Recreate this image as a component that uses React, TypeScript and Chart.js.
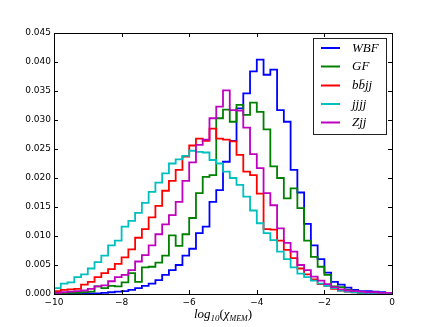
import React, { useEffect, useRef } from "react";
import { Chart, registerables } from "chart.js";

Chart.register(...registerables);

// Histogram bin edges (log10 chi_MEM)
const binEdges = [
  -10.0, -9.8, -9.6, -9.4, -9.2, -9.0, -8.8, -8.6, -8.4, -8.2,
  -8.0, -7.8, -7.6, -7.4, -7.2, -7.0, -6.8, -6.6, -6.4, -6.2,
  -6.0, -5.8, -5.6, -5.4, -5.2, -5.0, -4.8, -4.6, -4.4, -4.2,
  -4.0, -3.8, -3.6, -3.4, -3.2, -3.0, -2.8, -2.6, -2.4, -2.2,
  -2.0, -1.8, -1.6, -1.4, -1.2, -1.0, -0.8, -0.6, -0.4, -0.2,
  0.0,
];

const seriesLabels = ["WBF", "GF", "bb\u0304jj", "jjjj", "Zjj"];
const seriesColors = ["#0000ff", "#008000", "#ff0000", "#00bfbf", "#bf00bf"];

const wbf = [
  0.0, 0.0, 0.0001, 0.0001, 0.0001, 0.0001, 0.0001, 0.0002, 0.0003, 0.0004,
  0.0005, 0.0007, 0.001, 0.0014, 0.0018, 0.0024, 0.0033, 0.0041, 0.005, 0.0066,
  0.0078, 0.0105, 0.0116, 0.0159, 0.0179, 0.0228, 0.0264, 0.032, 0.0346, 0.0384,
  0.0404, 0.0378, 0.0387, 0.0317, 0.0297, 0.0214, 0.0175, 0.0121, 0.0084, 0.006,
  0.0037, 0.0021, 0.0016, 0.0011, 0.0007, 0.0005, 0.0005, 0.0004, 0.0003, 0.0001,
];
const gf = [
  0.0001, 0.0001, 0.0002, 0.0002, 0.0003, 0.0004, 0.0013, 0.001, 0.0014, 0.0013,
  0.002, 0.0036, 0.0021, 0.0046, 0.0047, 0.0054, 0.0066, 0.0101, 0.0083, 0.0103,
  0.0131, 0.0174, 0.0202, 0.0205, 0.0303, 0.0318, 0.0297, 0.0326, 0.0309, 0.033,
  0.0314, 0.0284, 0.022, 0.02, 0.0165, 0.0182, 0.0148, 0.0092, 0.0064, 0.0047,
  0.0033, 0.0013, 0.0012, 0.0007, 0.0004, 0.0002, 0.0002, 0.0002, 0.0001, 0.0001,
];
const bbjj = [
  0.0005, 0.0007, 0.0008, 0.0009, 0.0016, 0.0021, 0.0029, 0.0036, 0.0043, 0.0052,
  0.0063, 0.0077, 0.0097, 0.0112, 0.0132, 0.0152, 0.0178, 0.0195, 0.0214, 0.0237,
  0.0256, 0.0268, 0.0264, 0.0285, 0.0268, 0.0266, 0.0263, 0.024, 0.0211, 0.0205,
  0.0173, 0.0112, 0.0111, 0.0092, 0.0076, 0.0062, 0.0044, 0.0034, 0.0025, 0.0017,
  0.0014, 0.0009, 0.0006, 0.0004, 0.0003, 0.0002, 0.0001, 0.0001, 0.0, 0.0,
];
const jjjj = [
  0.001, 0.0018, 0.002, 0.0029, 0.0034, 0.0044, 0.0055, 0.0066, 0.0084, 0.0092,
  0.0116, 0.0126, 0.014, 0.0157, 0.0176, 0.0192, 0.0208, 0.0225, 0.0232, 0.0238,
  0.0247, 0.0245, 0.0244, 0.0231, 0.0225, 0.0211, 0.02, 0.0188, 0.0168, 0.0144,
  0.0122, 0.0105, 0.0093, 0.0073, 0.006, 0.0046, 0.0035, 0.0029, 0.0023, 0.0018,
  0.0014, 0.001, 0.0006, 0.0004, 0.0003, 0.0002, 0.0001, 0.0001, 0.0, 0.0,
];
const zjj = [
  0.0002, 0.0003, 0.0004, 0.0005, 0.0006, 0.0009, 0.0013, 0.0015, 0.0022, 0.0029,
  0.0033, 0.0041, 0.0056, 0.0067, 0.0084, 0.0103, 0.012, 0.0136, 0.0159, 0.0195,
  0.0227, 0.0257, 0.0266, 0.0303, 0.0323, 0.0351, 0.0317, 0.0316, 0.0287, 0.0241,
  0.0217, 0.0174, 0.0153, 0.0113, 0.0088, 0.0073, 0.005, 0.0041, 0.003, 0.0023,
  0.0017, 0.0012, 0.0008, 0.0006, 0.0005, 0.0004, 0.0003, 0.0003, 0.0002, 0.0002,
];

const xTicks = [-10, -8, -6, -4, -2, 0];
const yTicks = [0, 0.005, 0.01, 0.015, 0.02, 0.025, 0.03, 0.035, 0.04, 0.045];

const allSeries = [wbf, gf, bbjj, jjjj, zjj];

function stepPoints(vals: number[]) {
  const n = vals.length;
  const pts: { x: number; y: number }[] = [{ x: binEdges[0], y: 0 }];
  for (let i = 0; i < n; i++) pts.push({ x: binEdges[i], y: vals[i] });
  pts.push({ x: binEdges[n], y: vals[n - 1] });
  pts.push({ x: binEdges[n], y: 0 });
  return pts;
}

const framePlugin = {
  id: "framePlugin",
  afterDatasetsDraw(chart: any) {
    const { ctx, chartArea } = chart;
    const { left, right, top, bottom } = chartArea;
    const xs = chart.scales.x;
    const ys = chart.scales.y;
    ctx.save();
    ctx.strokeStyle = "#000";
    ctx.lineWidth = 1;
    // ticks inside
    ctx.beginPath();
    const tl = 4;
    xTicks.forEach((v) => {
      const px = Math.round(xs.getPixelForValue(v)) + 0.5;
      ctx.moveTo(px, bottom);
      ctx.lineTo(px, bottom - tl);
      ctx.moveTo(px, top);
      ctx.lineTo(px, top + tl);
    });
    yTicks.forEach((v) => {
      const py = Math.round(ys.getPixelForValue(v)) + 0.5;
      ctx.moveTo(left, py);
      ctx.lineTo(left + tl, py);
      ctx.moveTo(right, py);
      ctx.lineTo(right - tl, py);
    });
    ctx.stroke();
    // frame
    ctx.strokeRect(Math.round(left) + 0.5, Math.round(top) + 0.5, Math.round(right - left), Math.round(bottom - top));

    // legend
    const lx = 313.5, ly = 38.5, lw = 73, lh = 96;
    ctx.fillStyle = "#fff";
    ctx.fillRect(lx, ly, lw, lh);
    ctx.strokeStyle = "#222";
    ctx.strokeRect(lx, ly, lw, lh);
    const rowY = [48, 66.5, 85.5, 104, 122.5];
    chart.data.datasets.forEach((ds: any, i: number) => {
      const y = rowY[i];
      ctx.strokeStyle = ds.borderColor;
      ctx.lineWidth = 2;
      ctx.beginPath();
      ctx.moveTo(321, y);
      ctx.lineTo(340, y);
      ctx.stroke();
      ctx.fillStyle = "#000";
      ctx.font = 'italic 13px "Liberation Serif"';
      ctx.textBaseline = "middle";
      ctx.textAlign = "left";
      ctx.fillText(ds.label, 352, y + 0.5);
    });

    // x axis title: log_10(chi_MEM)
    const parts = [
      { t: "log", f: 'italic 13px "Liberation Serif"', dy: 0 },
      { t: "10", f: 'italic 9px "Liberation Serif"', dy: 3 },
      { t: "(", f: '13px "Liberation Serif"', dy: 0 },
      { t: "\u03c7", f: 'italic 13px "Liberation Serif"', dy: 0 },
      { t: "MEM", f: 'italic 8px "Liberation Serif"', dy: 3 },
      { t: ")", f: '13px "Liberation Serif"', dy: 0 },
    ];
    let total = 0;
    parts.forEach((p) => {
      ctx.font = p.f;
      total += ctx.measureText(p.t).width;
    });
    let cx = (left + right) / 2 - total / 2;
    const baseY = 318;
    ctx.fillStyle = "#000";
    ctx.textBaseline = "alphabetic";
    parts.forEach((p) => {
      ctx.font = p.f;
      ctx.fillText(p.t, cx, baseY + p.dy);
      cx += ctx.measureText(p.t).width;
    });
    ctx.restore();
  },
};

export default function App() {
  const ref = useRef<HTMLCanvasElement | null>(null);
  useEffect(() => {
    if (!ref.current) return;
    const chart = new Chart(ref.current, {
      type: "line",
      data: {
        datasets: allSeries.map((vals, i) => ({
          label: seriesLabels[i],
          data: stepPoints(vals),
          borderColor: seriesColors[i],
          backgroundColor: seriesColors[i],
          borderWidth: 1.8,
          pointRadius: 0,
          fill: false,
          stepped: "before" as const,
          tension: 0,
          order: allSeries.length - i,
        })),
      },
      options: {
        animation: false,
        responsive: false,
        maintainAspectRatio: false,
        layout: { padding: { top: 33, right: 44, bottom: 0, left: 0 } },
        plugins: {
          legend: { display: false },
          tooltip: { enabled: false },
          title: { display: false },
        },
        scales: {
          x: {
            type: "linear",
            min: -10,
            max: 0,
            grid: { display: false, drawTicks: false },
            border: { display: false },
            afterFit: (s: any) => {
              s.height = 33;
            },
            afterBuildTicks: (s: any) => {
              s.ticks = xTicks.map((v) => ({ value: v }));
            },
            ticks: {
              color: "#000",
              font: { family: "DejaVu Sans", size: 9 },
              padding: 3,
              maxRotation: 0,
              callback: (v: any) => (Number(v) < 0 ? "\u2212" + Math.abs(Number(v)) : String(v)),
            },
          },
          y: {
            type: "linear",
            min: 0,
            max: 0.045,
            grid: { display: false, drawTicks: false },
            border: { display: false },
            afterFit: (s: any) => {
              s.width = 54;
            },
            afterBuildTicks: (s: any) => {
              s.ticks = yTicks.map((v) => ({ value: v }));
            },
            ticks: {
              color: "#000",
              font: { family: "DejaVu Sans", size: 9 },
              padding: 3,
              callback: (v: any) => Number(v).toFixed(3),
            },
          },
        },
      },
      plugins: [framePlugin],
    });
    return () => chart.destroy();
  }, []);
  return (
    <div style={{ position: "fixed", left: 0, top: 0, width: 436, height: 327, background: "#fff" }}>
      <canvas ref={ref} width={436} height={327} style={{ width: 436, height: 327, display: "block" }} />
    </div>
  );
}
